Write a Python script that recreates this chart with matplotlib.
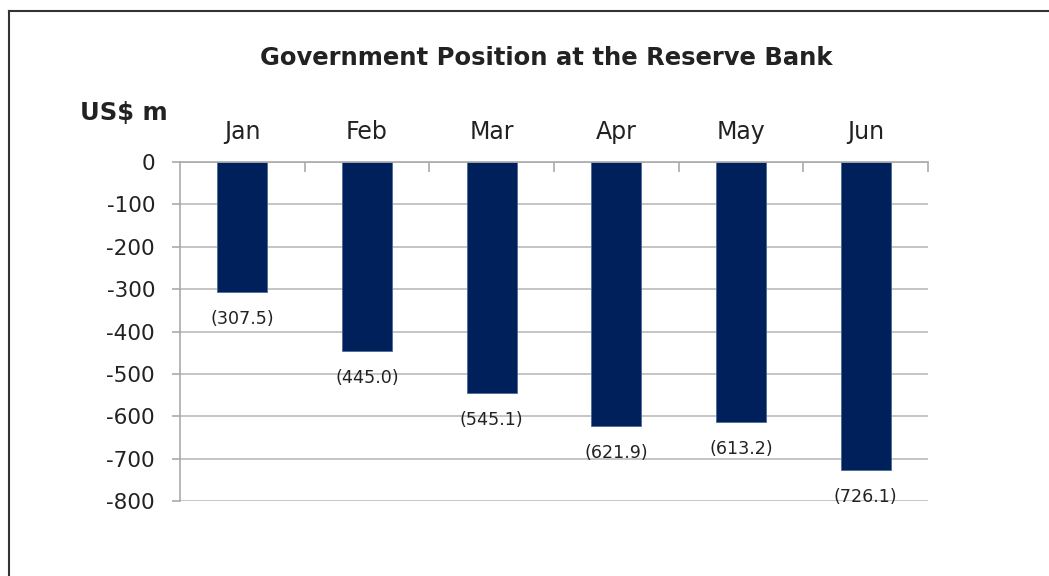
import matplotlib.pyplot as plt
from matplotlib.lines import Line2D

months = ["Jan", "Feb", "Mar", "Apr", "May", "Jun"]
position = [-307.5, -445.0, -545.1, -621.9, -613.2, -726.1]
yticks = [0, -100, -200, -300, -400, -500, -600, -700, -800]

plt.rcParams['font.family'] = ['DejaVu Sans']

fig = plt.figure(figsize=(10.49, 5.76), dpi=100)
ax = fig.add_axes([0.1716, 0.1302, 0.7131, 0.5885])

x = list(range(len(months)))
ax.bar(x, position, width=0.4, color='#00205B', edgecolor='#4A6A9A', linewidth=0.6, zorder=3)

# value labels in accounting style below each bar
for xi, v in zip(x, position):
    ax.annotate("(%.1f)" % abs(v), (xi, v), xytext=(0, -19.5), textcoords='offset points',
                ha='center', va='center', fontsize=12.6, color='#222222')

ax.set_xlim(-0.5, 5.5)
ax.set_ylim(-800, 0)
ax.set_yticks(yticks)
ax.set_yticklabels([str(t) for t in yticks])
ax.yaxis.grid(True, color='#BBBBBB', linewidth=1.2, zorder=0)

# category axis sits on top, ticks between bars
ax.xaxis.set_ticks_position('top')
ax.set_xticks([i + 0.5 for i in x])
ax.set_xticklabels([])
ax.set_xticks(x, minor=True)
ax.set_xticklabels(months, minor=True)
ax.tick_params(axis='x', which='major', direction='in', length=7, color='#AAAAAA', width=1.2)
ax.tick_params(axis='x', which='minor', length=0, pad=13, labelsize=17, labelcolor='#222222')
ax.tick_params(axis='y', length=6, color='#AAAAAA', width=1.2, pad=12, labelsize=15.5, labelcolor='#222222')

for s in ['right', 'bottom']:
    ax.spines[s].set_visible(False)
for s in ['left', 'top']:
    ax.spines[s].set_color('#AAAAAA')
    ax.spines[s].set_linewidth(1.2)
ax.spines['top'].set_zorder(4)

fig.text(0.521, 0.90, "Government Position at the Reserve Bank", ha='center', va='center',
         fontsize=17.5, fontweight='bold', color='#222222')
fig.text(0.118, 0.804, "US$ m", ha='center', va='center', fontsize=17.5, fontweight='bold', color='#222222')

# chart frame
fig.add_artist(Line2D([0.0086, 0.0086], [0, 0.981], color='#333333', linewidth=1.5))
fig.add_artist(Line2D([0.0086, 1.0], [0.981, 0.981], color='#333333', linewidth=1.5))

fig.savefig("out.png", dpi=100)
